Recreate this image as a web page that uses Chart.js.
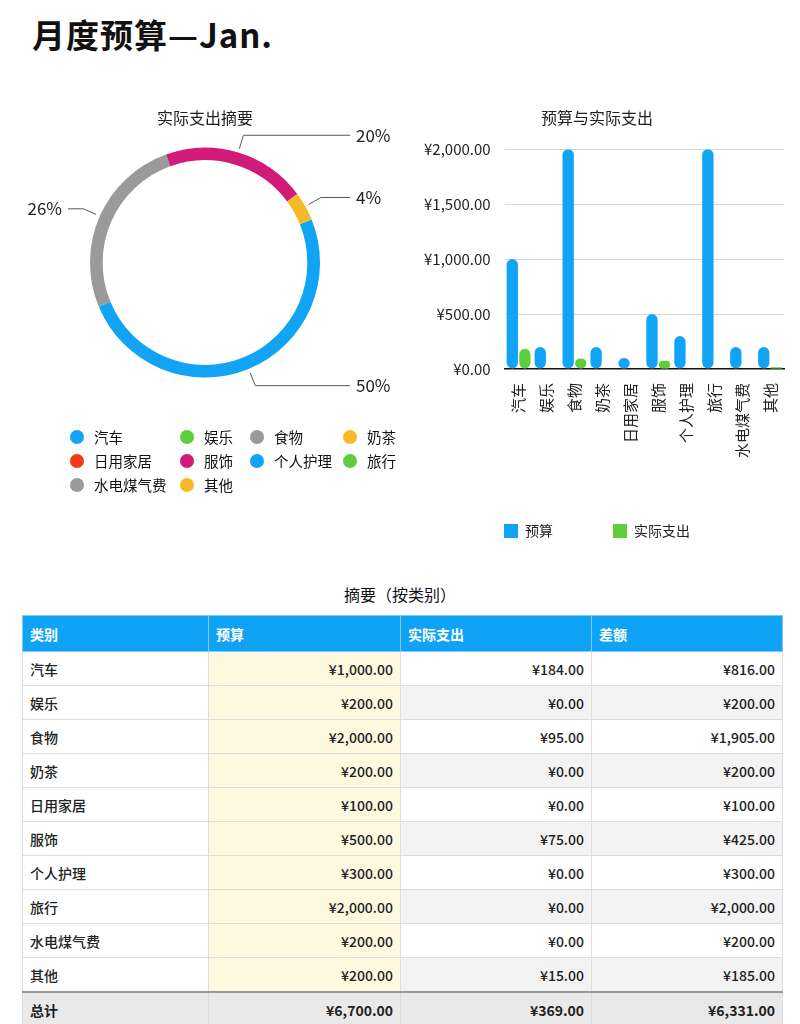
<!DOCTYPE html>
<html><head><meta charset="utf-8">
<script src="https://cdn.jsdelivr.net/npm/chart.js@4/dist/chart.umd.min.js"></script>
<style>
body{margin:0;width:800px;height:1024px;overflow:hidden;background:#fff;font-family:"PingFang SC","Noto Sans CJK SC","Liberation Sans",sans-serif;color:#111;position:relative}
#title{position:absolute;left:32px;top:10px;font-size:33px;font-weight:bold;letter-spacing:1px}
#pieWrap{position:absolute;left:0;top:100px;width:410px;height:330px}
#barWrap{position:absolute;left:410px;top:108px;width:390px;height:452px}
#legend{position:absolute;left:70px;top:426px;width:340px;display:grid;grid-template-columns:110px 70px 93px 70px;row-gap:3px;font-size:14.5px}
#legend div{display:flex;align-items:center;white-space:nowrap}
#legend span.d{width:14px;height:14px;border-radius:50%;display:inline-block;margin-right:10px}
#ttitle{position:absolute;left:0;width:800px;top:582px;text-align:center;font-size:16px}
table{position:absolute;left:22px;top:615px;width:760px;border-collapse:collapse;table-layout:fixed;font-size:14px;color:#222}
td,th{border:1px solid #ddd;height:33px;padding:0 7px}
th{background:#0fa3f5;color:#fff;text-align:left;height:35px;border-color:#7fcaf7;font-weight:bold}
td{text-align:right;font-weight:500}
td:first-child{text-align:left}
td:nth-child(2){background:#fdf9e1;border-left:1px solid #555}
tr.alt td:nth-child(3),tr.alt td:nth-child(4){background:#f3f3f3}
tr.tot td{background:#e9e9e9;border-top:2px solid #999;font-weight:bold}
</style></head><body>
<div id="title">月度预算—Jan.</div>
<div id="pieWrap"><canvas id="pie"></canvas></div>
<div id="legend"></div>
<div id="barWrap"><canvas id="bar"></canvas></div>
<div id="ttitle">摘要（按类别）</div>
<table id="tbl"></table>
<script>
const categories=["汽车","娱乐","食物","奶茶","日用家居","服饰","个人护理","旅行","水电煤气费","其他"];
const budget=[1000,200,2000,200,100,500,300,2000,200,200];
const actual=[184,0,95,0,0,75,0,0,0,15];
const palette=["#12a4f4","#5dcf3c","#9a9a9a","#f6b927","#f03b17","#d21b79"];
const yTicks=[0,500,1000,1500,2000];
const colors=categories.map((c,i)=>palette[i%palette.length]);
const fmt=v=>"¥"+v.toLocaleString("en-US",{minimumFractionDigits:2,maximumFractionDigits:2});

const lg=document.getElementById("legend");
categories.forEach((c,i)=>{const d=document.createElement("div");d.innerHTML='<span class="d" style="background:'+colors[i]+'"></span>'+c;lg.appendChild(d);});

const t=document.getElementById("tbl");
let h='<colgroup><col style="width:186px"><col style="width:192px"><col style="width:191px"><col style="width:191px"></colgroup>';
h+='<tr><th>类别</th><th>预算</th><th>实际支出</th><th>差额</th></tr>';
categories.forEach((c,i)=>{h+='<tr'+(i%2?' class="alt"':'')+'><td>'+c+'</td><td>'+fmt(budget[i])+'</td><td>'+fmt(actual[i])+'</td><td>'+fmt(budget[i]-actual[i])+'</td></tr>';});
const sb=budget.reduce((a,b)=>a+b,0),sa=actual.reduce((a,b)=>a+b,0);
h+='<tr class="tot"><td>总计</td><td>'+fmt(sb)+'</td><td>'+fmt(sa)+'</td><td>'+fmt(sb-sa)+'</td></tr>';
t.innerHTML=h;

const font='"PingFang SC","Noto Sans CJK SC","Liberation Sans",sans-serif';
Chart.defaults.font.family=font;
Chart.defaults.color="#222";

const outLabels={id:"outLabels",afterDatasetsDraw(ch){
  const ctx=ch.ctx,meta=ch.getDatasetMeta(0),total=actual.reduce((a,b)=>a+b,0);
  ctx.save();ctx.strokeStyle="#555";ctx.lineWidth=1;ctx.fillStyle="#222";ctx.font="17px "+font;ctx.textBaseline="middle";
  meta.data.forEach((arc,i)=>{
    if(!actual[i])return;
    const a=(arc.startAngle+arc.endAngle)/2,r=arc.outerRadius;
    const x1=arc.x+Math.cos(a)*(r+4),y1=arc.y+Math.sin(a)*(r+4);
    const x2=arc.x+Math.cos(a)*(r+18),y2=arc.y+Math.sin(a)*(r+18);
    const right=Math.cos(a)>=0;
    const x3=right?arc.x+r+30:arc.x-r-22;
    ctx.beginPath();ctx.moveTo(x1,y1);ctx.lineTo(x2,y2);ctx.lineTo(x3,y2);ctx.stroke();
    const txt=Math.round(actual[i]/total*100)+"%";
    ctx.textAlign=right?"left":"right";
    ctx.fillText(txt,right?x3+6:x3-6,y2);
  });
  ctx.restore();}};

new Chart(document.getElementById("pie"),{type:"doughnut",
 data:{labels:categories,datasets:[{data:actual,backgroundColor:colors,borderWidth:0}]},
 options:{responsive:true,maintainAspectRatio:false,animation:false,cutout:"89%",rotation:68,
  layout:{padding:{top:8,bottom:48,left:90,right:90}},
  plugins:{legend:{display:false},tooltip:{enabled:false},
   title:{display:true,text:"实际支出摘要",font:{size:16,weight:"normal"},color:"#222",padding:{top:0,bottom:16}}}},
 plugins:[outLabels]});

new Chart(document.getElementById("bar"),{type:"bar",
 data:{labels:categories,datasets:[
  {label:"预算",data:budget,backgroundColor:palette[0],borderRadius:6,borderSkipped:false,categoryPercentage:0.9,barPercentage:0.9},
  {label:"实际支出",data:actual,backgroundColor:palette[1],borderRadius:6,borderSkipped:false,categoryPercentage:0.9,barPercentage:0.9}]},
 options:{responsive:true,maintainAspectRatio:false,animation:false,
  layout:{padding:{right:16,bottom:12}},
  scales:{
   y:{min:0,max:2000,afterBuildTicks:s=>{s.ticks=yTicks.map(v=>({value:v}));},
      ticks:{callback:v=>fmt(v),font:{size:15},color:"#222",padding:14},
      grid:{color:"#d8d8d8",drawTicks:false},border:{display:false}},
   x:{ticks:{minRotation:90,maxRotation:90,font:{size:15},color:"#222",padding:6},
      grid:{display:false},border:{color:"#111",width:1.5}}},
  plugins:{tooltip:{enabled:false},
   title:{display:true,text:"预算与实际支出",font:{size:16,weight:"normal"},color:"#222",padding:{top:0,bottom:22}},
   legend:{position:"bottom",labels:{boxWidth:14,boxHeight:14,padding:60,font:{size:14},color:"#222"}}}}});
</script>
</body></html>
